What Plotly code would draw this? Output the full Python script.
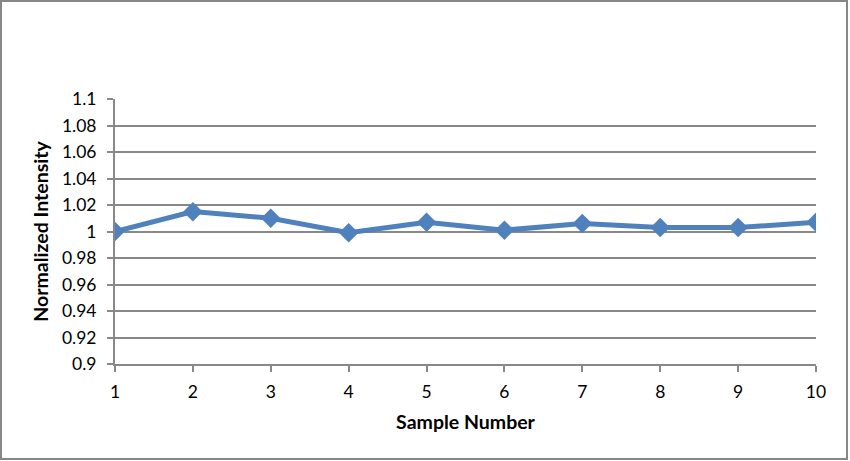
import plotly.graph_objects as go

# sample data
sample_number = [1, 2, 3, 4, 5, 6, 7, 8, 9, 10]
normalized_intensity = [1.000, 1.015, 1.010, 0.999, 1.007, 1.001, 1.006, 1.003, 1.003, 1.007]
y_ticks = [0.9, 0.92, 0.94, 0.96, 0.98, 1.0, 1.02, 1.04, 1.06, 1.08, 1.1]
y_tick_labels = ["0.9", "0.92", "0.94", "0.96", "0.98", "1", "1.02", "1.04", "1.06", "1.08", "1.1"]

W, H = 850, 461
ml, mr, mt, mb = 115, 34, 99, 97
pw, ph = W - ml - mr, H - mt - mb

fig = go.Figure()
fig.add_trace(go.Scatter(x=sample_number,
                         y=normalized_intensity,
                         mode="lines+markers",
                         line=dict(color="#4F81BD", width=5),
                         marker=dict(symbol="diamond", size=15, color="#4F81BD"),
                         hoverinfo="x+y"))

grid = "#888888"
fig.update_layout(
    width=W, height=H,
    margin=dict(l=ml, r=mr, t=mt, b=mb),
    plot_bgcolor="white",
    paper_bgcolor="white",
    showlegend=False,
    font=dict(family="Lato, 'Open Sans', sans-serif", size=17.5, color="#000000"),
    xaxis=dict(range=[1, 10], tickvals=sample_number, showgrid=False,
               zeroline=False, showline=True, linecolor=grid, linewidth=2,
               ticks="outside", ticklen=6, tickcolor=grid, tickwidth=2,
               ticklabelstandoff=5,
               title=dict(text="<b>Sample Number</b>", standoff=14,
                          font=dict(size=19.5))),
    yaxis=dict(range=[0.9, 1.1], tickvals=y_ticks, ticktext=y_tick_labels,
               showgrid=True, gridcolor=grid, gridwidth=1.5, zeroline=False,
               showline=True, linecolor=grid, linewidth=2,
               ticks="outside", ticklen=6, tickcolor=grid, tickwidth=2,
               ticklabelstandoff=7,
               title=dict(text="<b>Normalized Intensity</b>", standoff=8,
                          font=dict(size=19.5))),
)

# outer chart border
fig.add_shape(type="rect", xref="paper", yref="paper",
              x0=(1 - ml) / pw, x1=(W - 3 - ml) / pw,
              y0=-(mb - 2) / ph, y1=(H - 1 - mb) / ph,
              line=dict(color="#878787", width=2), layer="above")

fig.write_html("out.html", config={"displayModeBar": False},
               post_script="document.body.style.margin='0';")
